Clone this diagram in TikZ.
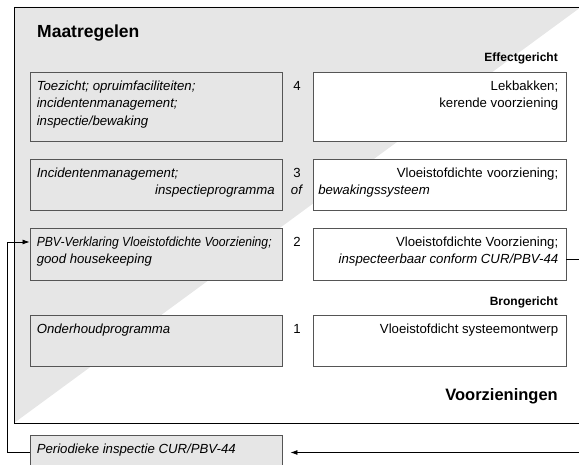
\documentclass[tikz,border=0pt]{standalone}
\usepackage{fontspec}
\setmainfont{Liberation Sans}
\usetikzlibrary{arrows.meta,calc}
\definecolor{bggray}{RGB}{230,230,230}
\definecolor{boxline}{RGB}{85,85,85}
\begin{document}
\begin{tikzpicture}[x=1pt,y=-1pt,
  bodyfont/.style={font=\fontsize{13.2}{17.5}\selectfont},
  lbox/.style={draw=boxline, fill=bggray, line width=0.9pt, inner sep=0pt, minimum width=252pt},
  rbox/.style={draw=boxline, fill=white, line width=0.9pt, inner sep=0pt, minimum width=253pt},
  ltxt/.style={anchor=north west, inner sep=0pt, align=left, font=\itshape\fontsize{13.2}{17.5}\selectfont},
  rtxt/.style={bodyfont, anchor=north east, inner sep=0pt, align=right},
  numtxt/.style={bodyfont, anchor=north, inner sep=0pt, align=center},
  conn/.style={line width=0.8pt, draw=black},
  tip/.style={-{Latex[length=7pt,width=5pt]}}
]
\useasboundingbox (0,0) rectangle (579,465);
\clip (0,0) rectangle (579,465);
% background frame
\fill[bggray] (14,7) -- (581,7) -- (14,423) -- cycle;
\draw[line width=0.9pt] (600,7) -- (14,7) -- (14,423) -- (600,423);

% titles
\node[anchor=base west, inner sep=0pt, font=\bfseries\fontsize{17.5}{20}\selectfont] (tmaat) at (37,38) {Maatregelen};
\node[anchor=base east, inner sep=0pt, font=\bfseries\fontsize{12}{14}\selectfont] (teff) at (558,62) {Effectgericht};
\node[anchor=base east, inner sep=0pt, font=\bfseries\fontsize{12}{14}\selectfont] (tbron) at (558,306) {Brongericht};
\node[anchor=base east, inner sep=0pt, font=\bfseries\fontsize{16.5}{20}\selectfont] (tvoor) at (558,400) {Voorzieningen};

% left boxes
\node[lbox, minimum height=69pt] (b4l) at (156,106.5) {};
\node[lbox, minimum height=51pt] (b3l) at (156,184.5) {};
\node[lbox, minimum height=52pt] (b2l) at (156,254) {};
\node[lbox, minimum height=51pt] (b1l) at (156,340.5) {};
\node[lbox, minimum height=35pt] (bb) at (156,452.5) {};

% right boxes
\node[rbox, minimum height=69pt] (b4r) at (439.5,106.5) {};
\node[rbox, minimum height=51pt] (b3r) at (439.5,184.5) {};
\node[rbox, minimum height=52pt] (b2r) at (439.5,254) {};
\node[rbox, minimum height=51pt] (b1r) at (439.5,340.5) {};

% left texts
\node[ltxt] (t4l) at ($(b4l.north west)+(7,9)$) {Toezicht; opruimfaciliteiten;\\incidentenmanagement;\\inspectie/bewaking};
\node[ltxt, text width=238pt] (t3l) at ($(b3l.north west)+(7,9)$) {Incidentenmanagement;\\\hspace*{\fill}inspectieprogramma};
\node[ltxt] (t2l) at ($(b2l.north west)+(7,9)$) {\scalebox{0.92}[1]{PBV-Verklaring Vloeistofdichte Voorziening;}\\good housekeeping};
\node[ltxt] (t1l) at ($(b1l.north west)+(7,9)$) {Onderhoudprogramma};
\node[ltxt] (tbb) at ($(bb.north west)+(7,9)$) {Periodieke inspectie CUR/PBV-44};

% right texts
\node[rtxt] (t4r) at ($(b4r.north east)+(-8,9)$) {Lekbakken;\\kerende voorziening};
\node[bodyfont, anchor=north east, inner sep=0pt, align=left, text width=240pt] (t3r) at ($(b3r.north east)+(-8,9)$) {\hspace*{\fill}Vloeistofdichte voorziening;\\\textit{bewakingssysteem}};
\node[rtxt] (t2r) at ($(b2r.north east)+(-8,9)$) {Vloeistofdichte Voorziening;\\\textit{inspecteerbaar conform CUR/PBV-44}};
\node[rtxt] (t1r) at ($(b1r.north east)+(-8,9)$) {Vloeistofdicht systeemontwerp};

% numbers
\node[numtxt] (n4) at (297,81) {4};
\node[numtxt] (n3) at (297,168) {3\\\textit{of}};
\node[numtxt] (n2) at (297,237) {2};
\node[numtxt] (n1) at (297,324) {1};

% connectors
\coordinate (cr) at (592,259);
\draw[conn, tip] ([yshift=-5pt]b2r.east) -- (cr) |- ([xshift=8pt]bb.east);
\coordinate (cl) at (7,452.5);
\draw[conn, tip] (bb.west) -- (cl) |- ([yshift=12pt]b2l.west);
\end{tikzpicture}
\end{document}
